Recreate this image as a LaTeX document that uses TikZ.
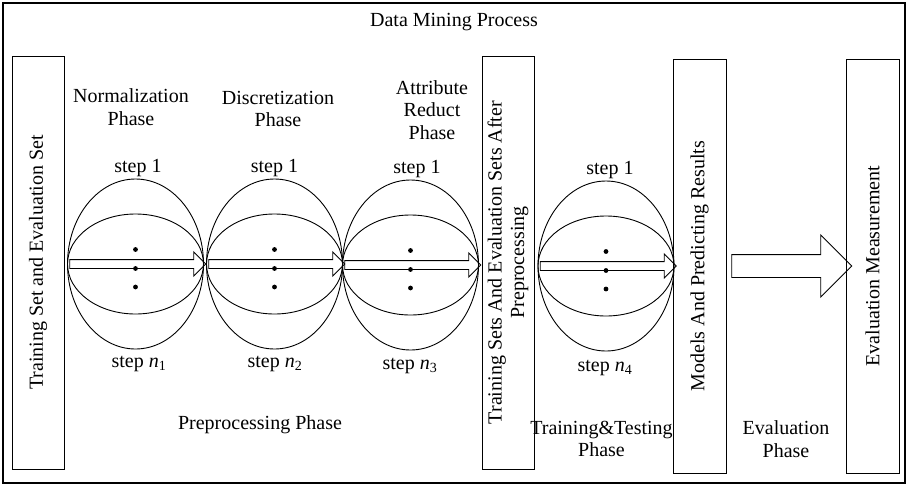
\documentclass[tikz,border=0pt]{standalone}
\usepackage{fontspec}
\setmainfont{Liberation Serif}
\usetikzlibrary{shapes.geometric,shapes.arrows}
\begin{document}
\begin{tikzpicture}[x=1pt,y=-1pt,line width=0.9pt,
  every node/.style={font=\fontsize{20}{22.5}\selectfont},
  lbl/.style={align=center,inner sep=0pt},
  box/.style={draw,rotate=90,inner sep=0pt,align=center,minimum height=52pt},
  ell/.style={ellipse,draw,inner sep=0pt,minimum width=136pt},
  outerell/.style={ell,minimum height=170pt},
  innerell/.style={ell,minimum height=100pt},
  fatarrow/.style={single arrow,draw,inner xsep=0pt,inner ysep=4pt,
    single arrow head extend=7.5pt,single arrow tip angle=90,
    minimum width=1pt,minimum height=136pt},
  bigarrow/.style={single arrow,draw,inner xsep=0pt,inner ysep=11pt,
    single arrow head extend=19.5pt,single arrow tip angle=90,
    minimum width=1pt,minimum height=120pt}]
\useasboundingbox (0,0) rectangle (908,485);
\node[draw,line width=1.2pt,minimum width=902pt,minimum height=480pt,inner sep=0pt] (frame) at (454,243) {};
\node[lbl] (title) at (454,22) {Data Mining Process};

% boxes
\node[box,minimum width=413pt] (b1) at (38,262.5) {Training Set and Evaluation Set};
\node[box,minimum width=413pt] (b2) at (508,262.5) {Training Sets And Evaluation Sets After\\Preprocessing};
\node[box,minimum width=414pt,minimum height=53pt] (b3) at (699.5,266) {Models And Predicting Results};
\node[box,minimum width=414pt,minimum height=53pt] (b4) at (872.5,266) {Evaluation Measurement};

% ellipse groups
\foreach \n/\cx/\cy in {1/135.5/264,2/274.5/264,3/410.5/265,4/606/266}{
  \node[outerell] (o\n) at (\cx,\cy) {};
  \node[innerell] (i\n) at (\cx,\cy) {};
  \node[fatarrow] (a\n) at (\cx,\cy) {};
  \fill (\cx,\cy-14.5) circle (2.4pt);
  \fill (\cx,\cy+4.5) circle (2.4pt);
  \fill (\cx,\cy+23) circle (2.4pt);
}
\node[bigarrow] (a5) at (786,266) {};

% phase labels
\node[lbl] (p1) at (131,107) {Normalization\\Phase};
\node[lbl] (p2) at (278,109) {Discretization\\Phase};
\node[lbl] (p3) at (432,110) {Attribute\\Reduct\\Phase};
\node[lbl] (pp) at (260,425) {Preprocessing Phase};
\node[lbl] (tt) at (601.5,439) {Training\&Testing\\Phase};
\node[lbl] (ev) at (786,439) {Evaluation\\Phase};

% step labels
\node[lbl] (s11) at (138,168) {step 1};
\node[lbl] (s21) at (274.5,168) {step 1};
\node[lbl] (s31) at (417,169) {step 1};
\node[lbl] (s41) at (610,170) {step 1};
\node[lbl] (s1n) at (139,364) {step \textit{n}\textsubscript{1}};
\node[lbl] (s2n) at (275,364) {step \textit{n}\textsubscript{2}};
\node[lbl] (s3n) at (410,366) {step \textit{n}\textsubscript{3}};
\node[lbl] (s4n) at (605,368) {step \textit{n}\textsubscript{4}};
\end{tikzpicture}
\end{document}
